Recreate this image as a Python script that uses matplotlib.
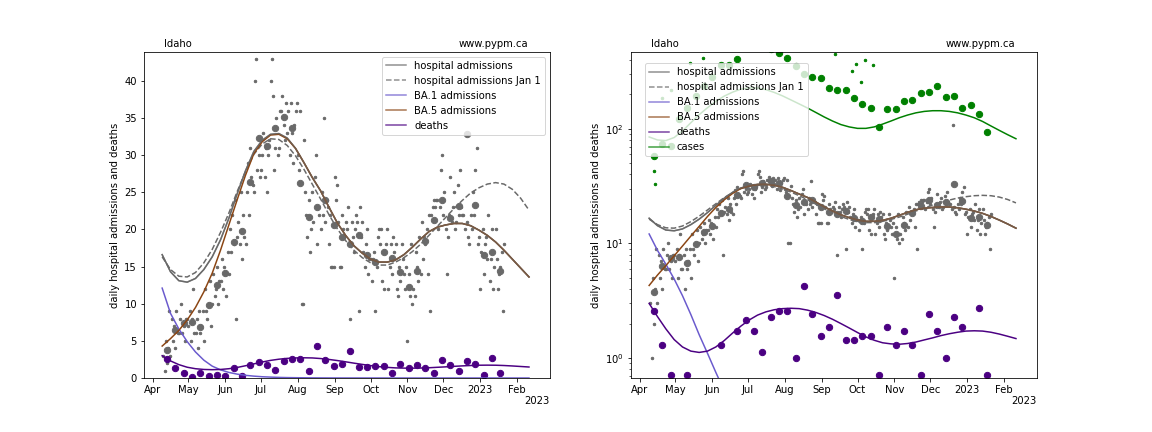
import pandas as pd
import matplotlib
matplotlib.use('Agg')
import matplotlib.pyplot as plt
import matplotlib.dates as mdates

# model curves, sampled every 7 days from 9 Apr 2022
curve_dates = pd.date_range('2022-04-09', periods=45, freq='7D')
hosp_model = [16.6, 14.3, 13.1, 12.9, 13.4, 14.6, 16.3, 18.6, 21.5, 24.8, 27.9, 30.5, 32.0, 32.8, 32.9,
              32.3, 30.9, 29.0, 27.0, 25.2, 23.0, 20.9, 19.2, 17.8, 16.8, 16.0, 15.6, 15.6, 15.9, 16.6,
              17.6, 18.7, 19.7, 20.3, 20.6, 20.8, 20.8, 20.5, 19.9, 19.2, 18.3, 17.2, 16.0, 14.8, 13.6]
hosp_model_jan1 = [16.3, 14.6, 13.7, 13.6, 14.2, 15.5, 17.3, 19.6, 22.2, 25.1, 27.8, 30.1, 31.5, 32.2, 32.1,
                   31.3, 29.9, 28.1, 26.1, 24.1, 22.0, 20.1, 18.5, 17.2, 16.2, 15.5, 15.2, 15.2, 15.6, 16.2,
                   17.0, 18.0, 19.2, 20.4, 21.6, 22.8, 23.9, 24.9, 25.6, 26.1, 26.3, 26.1, 25.4, 24.2, 22.6]
ba1_model = [12.1, 8.7, 6.6, 4.9, 3.5, 2.4, 1.6, 1.1, 0.75, 0.52, 0.36, 0.25, 0.17, 0.12, 0.08,
             0.055, 0.04, 0.03, 0.02, 0.014, 0.01, 0.007, 0.005, 0.004, 0.003, 0.002, 0.002, 0.001, 0.001, 0.001,
             0.001, 0.001, 0.001, 0.001, 0.001, 0.001, 0.001, 0.001, 0.001, 0.001, 0.001, 0.001, 0.001, 0.001, 0.001]
ba5_model = [4.3, 5.3, 6.4, 7.8, 9.5, 11.6, 14.1, 17.2, 20.6, 24.0, 27.3, 30.2, 31.8, 32.7, 32.8,
             32.2, 30.9, 29.0, 27.0, 25.2, 23.0, 20.9, 19.2, 17.8, 16.8, 16.0, 15.6, 15.6, 15.9, 16.6,
             17.6, 18.7, 19.7, 20.3, 20.6, 20.8, 20.8, 20.5, 19.9, 19.2, 18.3, 17.2, 16.0, 14.8, 13.6]
deaths_model = [3.0, 2.3, 1.8, 1.45, 1.25, 1.15, 1.12, 1.15, 1.25, 1.42, 1.65, 1.9, 2.15, 2.37, 2.53,
                2.64, 2.7, 2.72, 2.7, 2.62, 2.5, 2.35, 2.18, 2.0, 1.83, 1.67, 1.53, 1.43, 1.36, 1.33,
                1.32, 1.34, 1.38, 1.44, 1.5, 1.57, 1.63, 1.68, 1.72, 1.73, 1.72, 1.68, 1.62, 1.55, 1.48]
cases_model = [85, 80, 79, 84, 96, 113, 133, 153, 174, 193, 209, 222, 228, 227, 220,
               208, 194, 179, 165, 152, 139, 127, 117, 109, 104, 101, 101, 104, 110, 117,
               125, 132, 138, 142, 144, 144, 142, 138, 132, 125, 116, 106, 97, 89, 82]

# weekly averages (centre of each week, from 13 Apr 2022)
week_dates = pd.date_range('2022-04-13', periods=41, freq='7D')
hosp_weekly = [3.8, 6.4, 7.4, 7.6, 6.8, 9.8, 12.5, 14.1, 18.3, 19.8, 26.4, 32.3, 31.2, 33.7, 35.1,
               33.6, 26.2, 21.7, 23.0, 24.0, 20.6, 19.0, 18.0, 19.3, 16.6, 15.6, 16.9, 16.2, 14.2, 12.2,
               14.4, 18.5, 21.3, 24.0, 21.6, 23.1, 32.9, 23.3, 16.6, 16.9, 14.4]
deaths_weekly = [2.57, 1.29, 0.71, 0.14, 0.71, 0.29, 0.43, 0.29, 1.29, 0.29, 1.71, 2.14, 1.71, 1.14, 2.29,
                 2.57, 2.57, 1.0, 4.29, 2.43, 1.57, 1.86, 3.57, 1.43, 1.43, 1.57, 1.57, 0.71, 1.86, 1.29,
                 1.71, 1.29, 0.71, 2.43, 1.71, 1.0, 2.29, 1.86, 0.43, 2.71, 0.71]
cases_weekly = [58, 74, 71, 121, 153, 194, 236, 283, 360, 360, 404, 520, 560, 540, 500,
                458, 417, 353, 299, 283, 276, 226, 217, 217, 185, 164, 153, 104, 148, 148,
                174, 178, 204, 208, 235, 189, 192, 151, 161, 134, 94]

# daily hospital admissions, 10 Apr 2022 - 21 Jan 2023
day_dates = pd.date_range('2022-04-10', periods=287, freq='D')
hosp_daily = [
    3, 1, 5, 2, 4, 9, 3,
    8, 5, 7, 4, 9, 6, 6,
    8, 10, 6, 7, 5, 8, 8,
    7, 9, 5, 8, 12, 6, 6,
    8, 4, 9, 6, 7, 9, 5,
    12, 9, 8, 10, 13, 7, 10,
    14, 11, 12, 15, 10, 13, 13,
    16, 12, 15, 14, 11, 17, 14,
    20, 17, 22, 18, 24, 8, 19,
    21, 18, 25, 16, 22, 19, 18,
    25, 29, 22, 31, 27, 26, 25,
    40, 43, 28, 30, 27, 28, 30,
    33, 27, 31, 25, 30, 32, 40,
    43, 38, 28, 31, 35, 30, 31,
    36, 36, 38, 34, 32, 37, 33,
    36, 30, 37, 33, 29, 34, 36,
    37, 30, 28, 36, 10, 10, 32,
    25, 22, 19, 24, 17, 20, 25,
    21, 27, 30, 18, 23, 22, 20,
    25, 22, 35, 21, 24, 23, 18,
    22, 15, 15, 15, 27, 24, 26,
    21, 15, 15, 22, 20, 19, 21,
    20, 23, 18, 8, 21, 19, 17,
    20, 22, 21, 9, 23, 19, 21,
    17, 15, 18, 20, 14, 16, 16,
    13, 16, 17, 9, 15, 19, 20,
    18, 20, 13, 12, 17, 18, 20,
    12, 15, 18, 14, 19, 17, 18,
    12, 11, 15, 13, 18, 16, 14,
    12, 15, 5, 14, 11, 18, 10,
    12, 11, 17, 15, 13, 19, 14,
    21, 16, 19, 18, 20, 14, 22,
    9, 22, 23, 24, 23, 24, 24,
    20, 23, 28, 30, 22, 25, 20,
    14, 19, 22, 27, 21, 23, 25,
    20, 21, 26, 22, 28, 23, 22,
    22, 20, 108, 21, 19, 18, 22,
    20, 25, 22, 28, 31, 18, 19,
    12, 17, 20, 14, 18, 19, 16,
    22, 13, 16, 20, 12, 15, 20,
    16, 12, 14, 15, 17, 9, 18,
]

# daily case reports that show up on the log chart
cases_daily_dates = pd.to_datetime(['2022-04-13', '2022-04-14', '2022-04-20', '2022-04-27', '2022-05-13',
                                    '2022-05-24', '2022-09-12', '2022-09-26', '2022-09-30', '2022-10-04',
                                    '2022-10-07', '2022-10-14'])
cases_daily = [43, 33, 185, 220, 378, 417, 452, 319, 370, 258, 396, 358]

c_hosp = 'dimgray'
c_ba1 = 'slateblue'
c_ba5 = 'saddlebrown'
c_deaths = 'indigo'
c_cases = 'green'


def draw_panel(ax, log):
    ax.scatter(day_dates, hosp_daily, s=6, color=c_hosp, zorder=2)
    ax.scatter(week_dates, hosp_weekly, s=40, color=c_hosp, zorder=2)
    ax.scatter(week_dates, deaths_weekly, s=40, color=c_deaths, zorder=2)
    if log:
        ax.scatter(week_dates, cases_weekly, s=40, color=c_cases, zorder=2)
        ax.scatter(cases_daily_dates, cases_daily, s=6, color=c_cases, zorder=2)

    h1, = ax.plot(curve_dates, hosp_model, color=c_hosp, lw=1.5, label='hospital admissions')
    h2, = ax.plot(curve_dates, hosp_model_jan1, color=c_hosp, lw=1.5, ls='--', label='hospital admissions Jan 1')
    h3, = ax.plot(curve_dates, ba1_model, color=c_ba1, lw=1.5, label='BA.1 admissions')
    h4, = ax.plot(curve_dates, ba5_model, color=c_ba5, lw=1.5, label='BA.5 admissions')
    # second pass of total so the overlap reads as a mix of both colours
    ax.plot(curve_dates, hosp_model, color=c_hosp, lw=1.5, alpha=0.6)
    h5, = ax.plot(curve_dates, deaths_model, color=c_deaths, lw=1.5, label='deaths')
    handles = [h1, h2, h3, h4, h5]
    if log:
        h6, = ax.plot(curve_dates, cases_model, color=c_cases, lw=1.5, label='cases')
        handles.append(h6)

    if log:
        ax.set_yscale('log')
        ax.set_ylim(0.67, 470)
        leg = ax.legend(handles=handles, loc='upper left', bbox_to_anchor=(0.022, 0.981))
    else:
        ax.set_ylim(0, 43.9)
        leg = ax.legend(handles=handles, loc='upper right')
    for line in leg.get_lines():
        line.set_alpha(0.75)

    ax.set_xlim(pd.Timestamp('2022-03-24 18:00'), pd.Timestamp('2023-02-28 12:00'))
    locator = mdates.MonthLocator()
    ax.xaxis.set_major_locator(locator)
    ax.xaxis.set_major_formatter(mdates.ConciseDateFormatter(locator))
    # year offset shown under the last tick
    ax.text(1.0, -0.055, '2023', transform=ax.transAxes, ha='right', va='top')
    ax.set_ylabel('daily hospital admissions and deaths')
    ax.text(0.05, 1.015, 'Idaho', transform=ax.transAxes, ha='left', va='baseline')
    ax.text(0.946, 1.015, 'www.pypm.ca', transform=ax.transAxes, ha='right', va='baseline')


fig, axes = plt.subplots(1, 2, figsize=(16, 6), dpi=72)
fig.subplots_adjust(bottom=0.125)
draw_panel(axes[0], log=False)
draw_panel(axes[1], log=True)
fig.savefig('out.png', dpi=72)
